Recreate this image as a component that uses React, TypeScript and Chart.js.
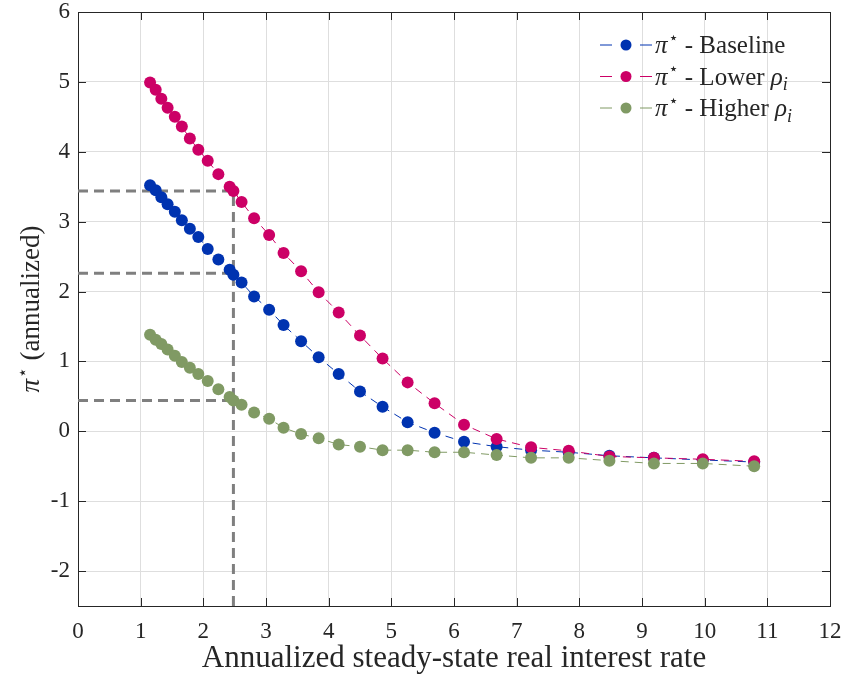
import { useEffect, useRef } from 'react';
import { Chart, registerables } from 'chart.js';

Chart.register(...registerables);

// ---- data ----
const rateX = [1.15, 1.24, 1.33, 1.43, 1.545, 1.657, 1.785, 1.92, 2.07, 2.24, 2.42, 2.48, 2.61, 2.81, 3.05, 3.28, 3.56, 3.84, 4.16, 4.5, 4.86, 5.26, 5.69, 6.16, 6.68, 7.23, 7.83, 8.48, 9.19, 9.97, 10.79];
const baselinePi = [3.52, 3.45, 3.35, 3.25, 3.14, 3.02, 2.9, 2.78, 2.61, 2.46, 2.31, 2.24, 2.13, 1.93, 1.74, 1.52, 1.29, 1.06, 0.82, 0.57, 0.35, 0.13, -0.02, -0.15, -0.22, -0.27, -0.3, -0.35, -0.38, -0.41, -0.44];
const lowerRhoPi = [4.99, 4.886, 4.76, 4.63, 4.5, 4.36, 4.19, 4.03, 3.87, 3.68, 3.5, 3.44, 3.28, 3.05, 2.81, 2.55, 2.29, 1.99, 1.7, 1.37, 1.04, 0.7, 0.4, 0.095, -0.11, -0.23, -0.28, -0.36, -0.38, -0.4, -0.43];
const higherRhoPi = [1.38, 1.31, 1.25, 1.17, 1.08, 0.99, 0.91, 0.82, 0.72, 0.6, 0.49, 0.44, 0.38, 0.27, 0.18, 0.05, -0.04, -0.1, -0.19, -0.22, -0.27, -0.27, -0.3, -0.3, -0.34, -0.38, -0.38, -0.42, -0.46, -0.46, -0.5];
const refRate = 2.48;
const refLevels = [3.44, 2.26, 0.44];
const xTicks = [0, 1, 2, 3, 4, 5, 6, 7, 8, 9, 10, 11, 12];
const yTicks = [-2, -1, 0, 1, 2, 3, 4, 5, 6];
const xRange = [0, 12];
const yRange = [-2.5, 6];
const seriesLabels = ['Baseline', 'Lower', 'Higher'];
const xTitle = 'Annualized steady-state real interest rate';
const yTitle = '(annualized)';

// ---- styles ----
const COLORS = ['#0033b0', '#cc0066', '#809a64'];
const SERIF = "'Liberation Serif', 'DejaVu Serif', serif";
const TEXT = '#262626';
const GRID = '#dedede';

const pts = (ys: number[]) => rateX.map((x, i) => ({ x, y: ys[i] }));

const framePlugin = {
  id: 'frame',
  beforeDatasetsDraw(chart: any) {
    const { ctx, chartArea: a, scales } = chart;
    ctx.save();
    ctx.strokeStyle = TEXT;
    ctx.lineWidth = 1;
    ctx.beginPath();
    const L = 8;
    for (const v of xTicks) {
      const p = Math.round(scales.x.getPixelForValue(v)) + 0.5;
      ctx.moveTo(p, a.bottom); ctx.lineTo(p, a.bottom - L);
      ctx.moveTo(p, a.top); ctx.lineTo(p, a.top + L);
    }
    for (const v of yTicks) {
      const p = Math.round(scales.y.getPixelForValue(v)) + 0.5;
      ctx.moveTo(a.left, p); ctx.lineTo(a.left + L, p);
      ctx.moveTo(a.right, p); ctx.lineTo(a.right - L, p);
    }
    ctx.stroke();
    ctx.strokeRect(Math.round(a.left) + 0.5, Math.round(a.top) + 0.5, Math.round(a.right - a.left), Math.round(a.bottom - a.top));
    ctx.restore();
  },
};

function drawPiStar(ctx: CanvasRenderingContext2D, x: number, y: number, size: number) {
  ctx.font = `italic ${size}px ${SERIF}`;
  ctx.fillText('π', x, y);
  let w = ctx.measureText('π').width;
  ctx.font = `${Math.round(size * 0.62)}px 'DejaVu Sans', sans-serif`;
  ctx.fillText('⋆', x + w + 1, y - size * 0.42);
  w += 1 + ctx.measureText('⋆').width;
  return w;
}

function drawRhoI(ctx: CanvasRenderingContext2D, x: number, y: number, size: number) {
  ctx.font = `italic ${size}px ${SERIF}`;
  ctx.fillText('ρ', x, y);
  const w = ctx.measureText('ρ').width;
  ctx.font = `italic ${Math.round(size * 0.7)}px ${SERIF}`;
  ctx.fillText('i', x + w, y + size * 0.22);
}

const textPlugin = {
  id: 'texts',
  afterDraw(chart: any) {
    const { ctx, chartArea: a } = chart;
    ctx.save();
    ctx.fillStyle = TEXT;
    ctx.textBaseline = 'alphabetic';
    ctx.textAlign = 'left';
    // y title (rotated)
    const ys = 27;
    ctx.font = `italic ${ys}px ${SERIF}`;
    const wPi = ctx.measureText('π').width;
    ctx.font = `${Math.round(ys * 0.62)}px 'DejaVu Sans', sans-serif`;
    const wStar = ctx.measureText('⋆').width;
    ctx.font = `${ys}px ${SERIF}`;
    const wRest = ctx.measureText(' ' + yTitle).width;
    const total = wPi + 1 + wStar + wRest;
    ctx.save();
    ctx.translate(39, (a.top + a.bottom) / 2);
    ctx.rotate(-Math.PI / 2);
    const sx = -total / 2;
    const w0 = drawPiStar(ctx, sx, 0, ys);
    ctx.font = `${ys}px ${SERIF}`;
    ctx.fillText(' ' + yTitle, sx + w0, 0);
    ctx.restore();

    // legend
    const ls = 25;
    for (let i = 0; i < seriesLabels.length; i++) {
      const cy = 45 + i * 31.5;
      ctx.strokeStyle = COLORS[i];
      ctx.lineWidth = 1;
      ctx.beginPath();
      ctx.moveTo(600, cy); ctx.lineTo(612, cy);
      ctx.moveTo(640, cy); ctx.lineTo(652, cy);
      ctx.stroke();
      ctx.fillStyle = COLORS[i];
      ctx.beginPath();
      ctx.arc(626, cy, 5.5, 0, Math.PI * 2);
      ctx.fill();
      ctx.fillStyle = TEXT;
      const base = cy + 8;
      let x = 655;
      x += drawPiStar(ctx, x, base, ls);
      ctx.font = `${ls}px ${SERIF}`;
      const t = ' - ' + seriesLabels[i] + (i > 0 ? ' ' : '');
      ctx.fillText(t, x, base);
      x += ctx.measureText(t).width;
      if (i > 0) drawRhoI(ctx, x, base, ls);
    }
    ctx.restore();
  },
};

const zeroPad = (s: any) => { s.paddingLeft = 0; s.paddingRight = 0; s.paddingTop = 0; s.paddingBottom = 0; };

export default function App() {
  const ref = useRef<HTMLCanvasElement | null>(null);
  useEffect(() => {
    document.body.style.margin = '0';
    const canvas = ref.current!;
    const refSets: any[] = refLevels.map((lv) => ({
      data: [{ x: xRange[0], y: lv }, { x: refRate, y: lv }],
      borderColor: '#7f7f7f', borderWidth: 3, borderDash: [10, 6], pointRadius: 0, order: 10,
    }));
    refSets.push({
      data: [{ x: refRate, y: yRange[0] }, { x: refRate, y: Math.max(...refLevels) }],
      borderColor: '#7f7f7f', borderWidth: 3, borderDash: [10, 6], pointRadius: 0, order: 10,
    });
    const series = [baselinePi, lowerRhoPi, higherRhoPi].map((ys, i) => ({
      label: seriesLabels[i],
      data: pts(ys),
      borderColor: COLORS[i],
      backgroundColor: COLORS[i],
      borderWidth: 1,
      borderDash: [8, 6],
      pointRadius: 6,
      pointBorderWidth: 0,
      pointBackgroundColor: COLORS[i],
      order: 3 - i,
    }));
    const chart = new Chart(canvas, {
      type: 'line',
      data: { datasets: [...refSets, ...series] },
      options: {
        responsive: false,
        animation: false,
        events: [],
        layout: { padding: { top: 12, right: 16, left: 0, bottom: 0 } },
        plugins: { legend: { display: false }, tooltip: { enabled: false } },
        scales: {
          x: {
            type: 'linear', min: xRange[0], max: xRange[1],
            afterBuildTicks: (s: any) => { s.ticks = xTicks.map((v) => ({ value: v })); },
            afterFit: (s: any) => { s.height = 71; zeroPad(s); },
            grid: { color: GRID, drawTicks: false },
            border: { display: false },
            ticks: { color: TEXT, font: { family: SERIF, size: 23 }, padding: 12, maxRotation: 0, autoSkip: false, callback: (v: any) => String(v) },
            title: { display: true, text: xTitle, color: TEXT, font: { family: SERIF, size: 31 }, padding: { top: 0, bottom: 0 } },
          },
          y: {
            type: 'linear', min: yRange[0], max: yRange[1],
            afterBuildTicks: (s: any) => { s.ticks = yTicks.map((v) => ({ value: v })); },
            afterFit: (s: any) => { s.width = 78; zeroPad(s); },
            grid: { color: GRID, drawTicks: false },
            border: { display: false },
            ticks: { color: TEXT, font: { family: SERIF, size: 23 }, padding: 8, autoSkip: false, callback: (v: any) => String(v) },
          },
        },
      },
      plugins: [framePlugin, textPlugin],
    });
    return () => chart.destroy();
  }, []);
  return <canvas ref={ref} width={846} height={677} style={{ display: 'block' }} />;
}
